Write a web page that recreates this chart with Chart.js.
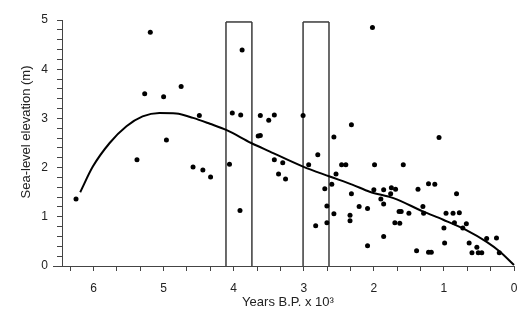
<!DOCTYPE html>
<html>
<head>
<meta charset="utf-8">
<script src="https://cdn.jsdelivr.net/npm/chart.js@4.4.1/dist/chart.umd.min.js"></script>
<style>
  html, body { margin: 0; padding: 0; background: #fff; }
  #wrap { width: 532px; height: 317px; }
</style>
</head>
<body>
<div id="wrap"><canvas id="chart" width="532" height="317"></canvas></div>
<script>
// ===== Sea-level data (years B.P. x 10^3, metres) =====
const sampleAge = [
    6.25, 5.38, 5.27, 5.19, 5.00, 4.96, 4.75, 4.58, 4.49, 4.44,
    4.33, 4.06, 4.02, 3.91, 3.90, 3.88, 3.65, 3.62, 3.62, 3.50,
    3.42, 3.42, 3.36, 3.30, 3.26, 3.01, 2.93, 2.83, 2.80, 2.70,
    2.67, 2.67, 2.60, 2.57, 2.57, 2.54, 2.46, 2.40, 2.34, 2.34,
    2.32, 2.32, 2.21, 2.09, 2.09, 2.02, 1.99, 2.00, 1.90, 1.86,
    1.86, 1.86, 1.75, 1.76, 1.69, 1.70, 1.64, 1.61, 1.63, 1.58,
    1.50, 1.39, 1.37, 1.30, 1.29, 1.22, 1.22, 1.18, 1.13, 1.07,
    1.00, 0.99, 0.97, 0.87, 0.85, 0.82, 0.78, 0.73, 0.68, 0.64,
    0.60, 0.53, 0.51, 0.46, 0.39, 0.25, 0.21
];
const sampleLevel = [
    1.36, 2.16, 3.50, 4.75, 3.44, 2.56, 3.65, 2.01, 3.06, 1.95,
    1.81, 2.07, 3.11, 1.13, 3.07, 4.39, 2.64, 2.65, 3.06, 2.96,
    3.07, 2.16, 1.87, 2.10, 1.77, 3.06, 2.06, 0.82, 2.26, 1.57,
    1.22, 0.88, 1.66, 2.62, 1.06, 1.87, 2.06, 2.06, 1.03, 0.92,
    2.87, 1.47, 1.21, 1.17, 0.41, 4.85, 2.06, 1.55, 1.36, 1.55,
    1.26, 0.60, 1.59, 1.47, 1.56, 0.88, 1.11, 1.11, 0.87, 2.06,
    1.07, 0.31, 1.56, 1.21, 1.07, 1.67, 0.28, 0.28, 1.66, 2.61,
    0.77, 0.47, 1.07, 1.07, 0.88, 1.47, 1.08, 0.77, 0.86, 0.47,
    0.27, 0.38, 0.27, 0.27, 0.56, 0.57, 0.27
];

// fitted curve
const curveAge = [0.00, 0.20, 0.39, 0.68, 1.01, 1.30, 1.72, 2.06, 2.30, 2.63, 3.01, 3.49,
    3.75, 4.10, 4.34, 4.58, 4.82, 5.06, 5.30, 5.53, 5.77, 6.01, 6.19];
const curveLevel = [0.02, 0.29, 0.49, 0.73, 0.94, 1.11, 1.38, 1.51, 1.65, 1.82, 2.02, 2.33,
    2.50, 2.76, 2.89, 3.01, 3.10, 3.11, 3.04, 2.84, 2.50, 2.02, 1.50];

// the two open boxes
const boxStart = [4.11, 3.01];
const boxEnd = [3.74, 2.64];
const boxTop = 4.96;

const xMajorTicks = [0, 1, 2, 3, 4, 5, 6];
const yMajorTicks = [0, 1, 2, 3, 4, 5];
const X_MINOR = 3;   // minor ticks per unit
const Y_MINOR = 5;

const FONT = "'Liberation Sans', Arial, sans-serif";
const INK = '#222';
const AXIS = '#444';
const Y_TITLE = 'Sea-level elevation (m)';

function minorTicks(majors, per, max) {
    const out = [];
    for (let i = 0; i < majors.length; i++) {
        for (let k = 0; k < per; k++) {
            const v = majors[i] + k / per;
            if (v <= max + 1e-9) out.push({ value: v });
        }
    }
    return out;
}

function majorLabel(v) {
    const r = Math.round(v);
    return Math.abs(v - r) < 1e-6 ? String(r) : '';
}

// each box side is its own two-point line
const boxSets = [];
boxStart.forEach((s, i) => {
    const e = boxEnd[i];
    [[s, 0, s, boxTop], [s, boxTop, e, boxTop], [e, boxTop, e, 0]].forEach(([x1, y1, x2, y2]) => {
        boxSets.push({
            data: [{ x: x1, y: y1 }, { x: x2, y: y2 }],
            showLine: true, borderColor: '#3a3a3a', borderWidth: 1.5, pointRadius: 0,
            fill: false, tension: 0.00001, clip: false
        });
    });
});

// x axis line runs a little past the y axis on the left; y title sits a bit high
const extras = {
    id: 'extras',
    afterDraw(chart) {
        const { ctx, chartArea } = chart;
        ctx.save();
        ctx.strokeStyle = AXIS;
        ctx.lineWidth = 1;
        ctx.beginPath();
        ctx.moveTo(chartArea.left - 9, Math.round(chartArea.bottom) + 0.5);
        ctx.lineTo(chartArea.left, Math.round(chartArea.bottom) + 0.5);
        ctx.stroke();

        ctx.translate(26, 132);
        ctx.rotate(-Math.PI / 2);
        ctx.fillStyle = INK;
        ctx.font = `13px ${FONT}`;
        ctx.textAlign = 'center';
        ctx.textBaseline = 'middle';
        ctx.fillText(Y_TITLE, 0, 0);
        ctx.restore();
    }
};

new Chart(document.getElementById('chart'), {
    type: 'scatter',
    data: {
        datasets: [
            {
                data: sampleAge.map((a, i) => ({ x: a, y: sampleLevel[i] })),
                backgroundColor: '#000', borderColor: '#000', pointRadius: 2.5, pointHoverRadius: 2.5, borderWidth: 0
            },
            {
                data: curveAge.map((a, i) => ({ x: a, y: curveLevel[i] })),
                showLine: true, borderColor: '#000', borderWidth: 2, pointRadius: 0,
                cubicInterpolationMode: 'monotone', fill: false, clip: false
            },
            ...boxSets
        ]
    },
    options: {
        responsive: false,
        animation: false,
        devicePixelRatio: 1,
        layout: { padding: { top: 20, right: 18, left: 0, bottom: 0 } },
        plugins: { legend: { display: false }, tooltip: { enabled: false } },
        scales: {
            x: {
                type: 'linear', reverse: true, min: 0, max: 6.45,
                afterBuildTicks: s => { s.ticks = minorTicks(xMajorTicks, X_MINOR, 6.45); },
                afterFit: s => { s.height = 51; },
                ticks: { autoSkip: false, maxRotation: 0, padding: 10, color: INK, font: { family: FONT, size: 12 }, callback: majorLabel },
                grid: { drawOnChartArea: false, drawTicks: true, tickLength: 5, color: AXIS },
                border: { display: true, color: AXIS },
                title: { display: true, text: 'Years B.P. x 10³', color: INK, font: { family: FONT, size: 13 }, padding: { bottom: 7, top: 0 } }
            },
            y: {
                type: 'linear', min: 0, max: 5,
                afterBuildTicks: s => { s.ticks = minorTicks(yMajorTicks, Y_MINOR, 5); },
                afterFit: s => { s.width = 62; },
                ticks: { autoSkip: false, padding: 9, color: INK, font: { family: FONT, size: 12 }, callback: majorLabel },
                grid: { drawOnChartArea: false, drawTicks: true, tickLength: 5, color: AXIS },
                border: { display: true, color: AXIS }
            }
        }
    },
    plugins: [extras]
});
</script>
</body>
</html>
